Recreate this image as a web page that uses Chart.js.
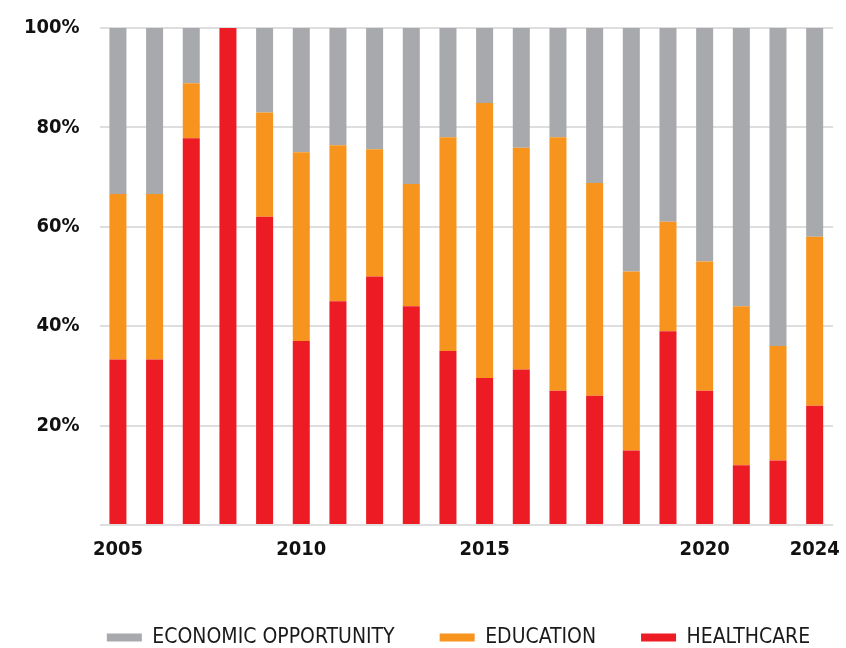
<!DOCTYPE html>
<html>
<head>
<meta charset="utf-8">
<script src="https://cdn.jsdelivr.net/npm/chart.js@4/dist/chart.umd.min.js"></script>
<style>
  html, body { margin: 0; padding: 0; background: #ffffff; }
  #wrap { width: 846px; height: 648px; position: relative; }
</style>
</head>
<body>
<div id="wrap"><canvas id="c" width="846" height="648"></canvas></div>
<script>
// Category tick labels (only some years are labelled in the original)
const xLabels = ['2005','','','','','2010','','','','','2015','','','','','','2020','','','2024'];
// Shares (%) per bar, bottom to top
const healthcare = [33.3, 33.3, 77.8, 100, 62, 37, 45, 50, 44, 35, 29.6, 31.3, 27, 26, 15, 39, 27, 12, 13, 24];
const education  = [33.3, 33.3, 11.1, 0, 21, 38, 31.4, 25.6, 24.6, 43, 55.3, 44.6, 51, 42.8, 36, 22, 26, 32, 23, 34];
const economic   = [33.4, 33.4, 11.1, 0, 17, 25, 23.6, 24.4, 31.4, 22, 15.1, 24.1, 22, 31.2, 49, 39, 47, 56, 64, 42];
const yTicks = [0, 20, 40, 60, 80, 100];

const tickFont = { family: "'DejaVu Sans Condensed', 'DejaVu Sans', sans-serif", weight: 'bold', size: 20 };

// shift the legend row horizontally so it sits where the original has it
const legendShift = {
  id: 'legendShift',
  afterLayout(chart) {
    if (chart.legend) { chart.legend.left += 40; chart.legend.right += 40; }
  }
};

new Chart(document.getElementById('c'), {
  type: 'bar',
  data: {
    labels: xLabels,
    datasets: [
      { label: 'HEALTHCARE', data: healthcare, backgroundColor: '#ED1C24' },
      { label: 'EDUCATION', data: education, backgroundColor: '#F7941D' },
      { label: 'ECONOMIC OPPORTUNITY', data: economic, backgroundColor: '#A7A9AC' }
    ]
  },
  plugins: [legendShift],
  options: {
    responsive: false,
    animation: false,
    devicePixelRatio: 1,
    layout: { padding: { left: 4, right: 13, top: 28, bottom: -10 } },
    datasets: { bar: { categoryPercentage: 1, barPercentage: 0.464, borderWidth: 0 } },
    plugins: {
      tooltip: { enabled: false },
      legend: {
        position: 'bottom',
        reverse: true,
        labels: {
          boxWidth: 35,
          boxHeight: 8,
          padding: 45,
          color: '#1a1a1a',
          font: { family: "'DejaVu Sans Condensed', 'DejaVu Sans', sans-serif", size: 21 }
        }
      }
    },
    scales: {
      x: {
        stacked: true,
        grid: { display: false },
        border: { display: false },
        ticks: { autoSkip: false, maxRotation: 0, color: '#111', font: tickFont, padding: 5 },
        afterFit: (axis) => { axis.height += 15; }
      },
      y: {
        stacked: true,
        min: 0, max: 100,
        afterBuildTicks: (axis) => { axis.ticks = yTicks.map(v => ({ value: v })); },
        afterFit: (axis) => { axis.paddingTop = 0; },
        grid: { color: '#dedede', lineWidth: 2, drawTicks: false },
        border: { display: false },
        ticks: {
          color: '#111', font: tickFont, padding: 20,
          callback: (v) => v === 0 ? '' : v + '%'
        }
      }
    }
  }
});
</script>
</body>
</html>
